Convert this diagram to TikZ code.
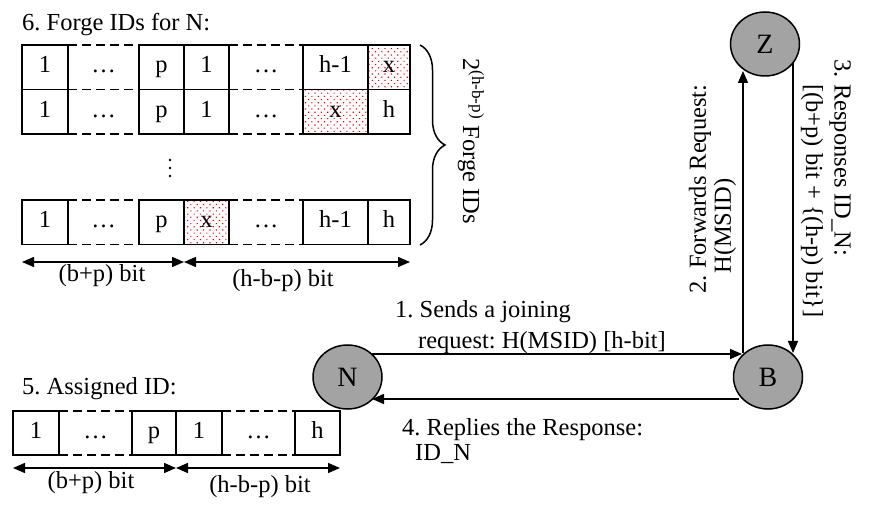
\documentclass[tikz,border=0pt]{standalone}
\usepackage{fontspec}
\setmainfont{Liberation Serif}
\usetikzlibrary{arrows.meta,shapes.geometric,decorations.pathreplacing,patterns.meta}
\definecolor{peergray}{RGB}{163,163,163}
\frenchspacing
\begin{document}
\begin{tikzpicture}[x=1pt,y=-1pt, font=\fontsize{24.5}{28}\selectfont,
 cell/.style={draw, line width=1.5pt, inner sep=0pt, outer sep=0pt, anchor=north west, text height=16pt, text depth=5pt},
 gap/.style={cell, draw=none},
 xcell/.style={cell, pattern={Dots[distance=4.5pt, angle=45, radius=0.8pt]}, pattern color=red},
 dashline/.style={line width=1.5pt, dash pattern=on 9pt off 5pt},
 arr/.style={line width=1.5pt, -{Triangle[length=12pt,width=10pt]}},
 dim/.style={line width=1.5pt, {Triangle[length=12pt,width=10pt]}-{Triangle[length=12pt,width=10pt]}},
 peer/.style={ellipse, draw, line width=1.5pt, fill=peergray, minimum width=69pt, minimum height=64pt, inner sep=0pt, font=\fontsize{28}{30}\selectfont},
 lbl/.style={anchor=base west, inner sep=0pt},
 dimlbl/.style={anchor=base, inner sep=0pt}
]
\fill[white] (0,0) rectangle (870,510);
\useasboundingbox (0,0) rectangle (870,510);

% ---------- 6. Forge IDs ----------
\node[lbl] (title6) at (22,31) {6. Forge IDs for N:};
\newcommand\cellsrow[3]{%
  \foreach \k/\x/\w/\t/\s in {#3} {
    \node[\s, minimum width=\w pt, minimum height=44.5pt] (#1\k) at (\x,#2) {\t};
  }}
\cellsrow{ra}{45}{1/22/46/1/cell, 2/68/71/\ldots/gap, 3/139/45/p/cell, 4/184/45/1/cell, 5/229/74/\ldots/gap, 6/303/65/h-1/cell, 7/368/42/x/xcell}
\cellsrow{rb}{89.5}{1/22/46/1/cell, 2/68/71/\ldots/gap, 3/139/45/p/cell, 4/184/45/1/cell, 5/229/74/\ldots/gap, 6/303/65/x/xcell, 7/368/42/h/cell}
\cellsrow{rc}{200}{1/22/46/1/cell, 2/68/71/\ldots/gap, 3/139/45/p/cell, 4/184/45/x/xcell, 5/229/74/\ldots/gap, 6/303/65/h-1/cell, 7/368/42/h/cell}
\foreach \c in {ra2,ra5,rb2,rb5,rc2,rc5} {
  \draw[dashline] (\c.north west) -- (\c.north east);
  \draw[dashline] (\c.south west) -- (\c.south east);
}
\foreach \yy in {160,168,176} \fill (170,\yy) circle (1.3);

\coordinate (da) at (22,262);
\coordinate (db) at (184,262);
\coordinate (dc) at (410,262);
\draw[dim] (da) -- (db);
\draw[dim] (db) -- (dc);
\node[dimlbl] (bp1) at (102,282) {(b+p) bit};
\node[dimlbl] (hbp1) at (283,287) {(h-b-p) bit};

\coordinate (bt) at (420,45);
\coordinate (bb) at (420,245);
\draw[line width=1.5pt, decorate, decoration={brace, amplitude=25pt}] (bt) -- (bb);
\node[rotate=-90, font=\fontsize{24.5}{26}\selectfont] (forge) at (471,141) {2\textsuperscript{(h-b-p)} Forge IDs};

% ---------- 5. Assigned ID ----------
\node[lbl] (title5) at (22,395) {5. Assigned ID:};
\foreach \k/\x/\w/\t/\s in {1/13/46/1/cell, 2/59/73/\ldots/gap, 3/132/44/p/cell, 4/176/46/1/cell, 5/222/73/\ldots/gap, 6/295/45/h/cell} {
  \node[\s, minimum width=\w pt, minimum height=44pt] (as\k) at (\x,411) {\t};
}
\foreach \c in {as2,as5} {
  \draw[dashline] (\c.north west) -- (\c.north east);
  \draw[dashline] (\c.south west) -- (\c.south east);
}
\coordinate (ea) at (13,468);
\coordinate (eb) at (176,468);
\coordinate (ec) at (340,468);
\draw[dim] (ea) -- (eb);
\draw[dim] (eb) -- (ec);
\node[dimlbl] (bp2) at (91,488) {(b+p) bit};
\node[dimlbl] (hbp2) at (260,492) {(h-b-p) bit};

% ---------- peers ----------
\node[peer] (N) at (347.5,377) {N};
\node[peer] (B) at (768,377) {B};
\node[peer] (Z) at (765,44) {Z};

\draw[arr] ([shift={(24.5,-23)}]N.center) -- ([shift={(-26,-23)}]B.center);
\draw[arr] ([shift={(-29,22)}]B.center) -- ([shift={(24.5,22)}]N.center);
\draw[arr] ([shift={(-25,-24)}]B.center) -- ([shift={(-22,27)}]Z.center);
\draw[arr] ([shift={(28,19)}]Z.center) -- ([shift={(25,-24)}]B.center);

\node[lbl] (l1a) at (395,318) {1. Sends a joining};
\node[lbl] (l1b) at (418,349) {request: H(MSID) [h-bit]};
\node[lbl] (l4a) at (402,435) {4. Replies the Response:};
\node[lbl] (l4b) at (415,460) {ID\_N};
\node[rotate=90] (l2a) at (700,189) {2. Forwards Request:};
\node[rotate=90] (l2b) at (725,226) {H(MSID)};
\node[rotate=-90] (l3a) at (840,158) {3. Responses ID\_N:};
\node[rotate=-90] (l3b) at (812,201) {[(b+p) bit + \{(h-p) bit\}]};
\end{tikzpicture}
\end{document}
